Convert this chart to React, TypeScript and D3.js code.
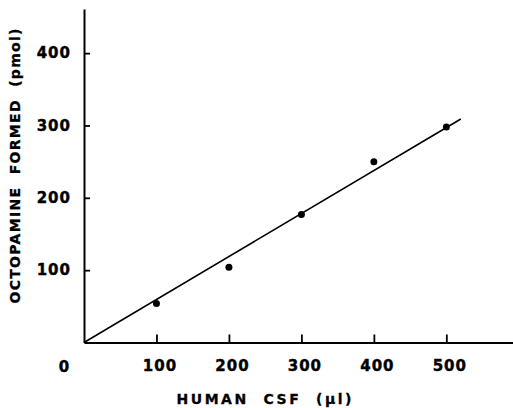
import React, { useRef, useEffect } from "react";
import * as d3 from "d3";

// measured points (human CSF in µl vs octopamine formed in pmol)
const csfVolumes = [100, 200, 300, 400, 500];
const octopamineFormed = [54, 104, 177, 250, 298];
// fitted regression line end points
const fitX = [0, 520];
const fitY = [0, 309];
const xTickValues = [100, 200, 300, 400, 500];
const yTickValues = [100, 200, 300, 400];

const FONT = "'DejaVu Sans', sans-serif";

const App = () => {
  const svgRef = useRef<SVGSVGElement>(null);

  useEffect(() => {
    const svg = d3.select(svgRef.current);
    svg.selectAll("*").remove();

    const x = d3.scaleLinear().domain([0, 592]).range([84, 513]);
    const y = d3.scaleLinear().domain([0, 461]).range([342.5, 9]);

    // x axis, ticks pointing up
    const xAxis = svg
      .append("g")
      .attr("transform", `translate(0,${y(0)})`)
      .call(
        d3
          .axisBottom(x)
          .tickValues(xTickValues)
          .tickSizeInner(-8)
          .tickSizeOuter(0)
          .tickPadding(18)
      );
    xAxis.select(".domain").attr("stroke-width", 2);
    xAxis.selectAll(".tick line").attr("stroke-width", 1.8);
    xAxis
      .selectAll(".tick text")
      .attr("font-family", FONT)
      .attr("font-weight", "bold")
      .attr("font-size", 15)
      .attr("letter-spacing", 1)
      .attr("stroke", "#000")
      .attr("stroke-width", 0.4)
      .attr("dx", 3);

    // y axis, ticks pointing right
    const yAxis = svg
      .append("g")
      .attr("transform", `translate(${x(0)},0)`)
      .call(
        d3
          .axisLeft(y)
          .tickValues(yTickValues)
          .tickSizeInner(-6)
          .tickSizeOuter(0)
          .tickPadding(13)
      );
    yAxis.select(".domain").attr("stroke-width", 2);
    yAxis.selectAll(".tick line").attr("stroke-width", 1.8);
    yAxis
      .selectAll(".tick text")
      .attr("font-family", FONT)
      .attr("font-weight", "bold")
      .attr("font-size", 15)
      .attr("letter-spacing", 1)
      .attr("stroke", "#000")
      .attr("stroke-width", 0.4);

    // shared origin label
    svg
      .append("text")
      .attr("x", 64)
      .attr("y", 372)
      .attr("text-anchor", "middle")
      .attr("font-family", FONT)
      .attr("font-weight", "bold")
      .attr("font-size", 15)
      .attr("stroke", "#000")
      .attr("stroke-width", 0.4)
      .text("0");

    // regression line
    const line = d3
      .line<number>()
      .x((d) => x(d))
      .y((d, i) => y(fitY[i]));
    svg
      .append("path")
      .datum(fitX)
      .attr("d", line)
      .attr("fill", "none")
      .attr("stroke", "#000")
      .attr("stroke-width", 1.6);

    // data points
    svg
      .append("g")
      .selectAll("circle")
      .data(csfVolumes)
      .join("circle")
      .attr("cx", (d) => x(d))
      .attr("cy", (d, i) => y(octopamineFormed[i]))
      .attr("r", 3.5)
      .attr("fill", "#000");

    // axis titles
    svg
      .append("text")
      .attr("x", 264)
      .attr("y", 404)
      .attr("text-anchor", "middle")
      .attr("font-family", FONT)
      .attr("font-weight", "bold")
      .attr("font-size", 14)
      .attr("stroke", "#000")
      .attr("stroke-width", 0.3)
      .attr("textLength", 175)
      .attr("lengthAdjust", "spacing")
      .attr("xml:space", "preserve")
      .text("HUMAN  CSF  (\u00b5l)");

    svg
      .append("text")
      .attr("transform", "translate(20,166) rotate(-90)")
      .attr("text-anchor", "middle")
      .attr("font-family", FONT)
      .attr("font-weight", "bold")
      .attr("font-size", 14)
      .attr("stroke", "#000")
      .attr("stroke-width", 0.3)
      .attr("textLength", 275)
      .attr("lengthAdjust", "spacing")
      .attr("xml:space", "preserve")
      .text("OCTOPAMINE  FORMED  (pmol)");
  }, []);

  return (
    <svg
      ref={svgRef}
      width={513}
      height={408}
      style={{ position: "absolute", left: 0, top: 0, background: "#fff" }}
    ></svg>
  );
};

export default App;
